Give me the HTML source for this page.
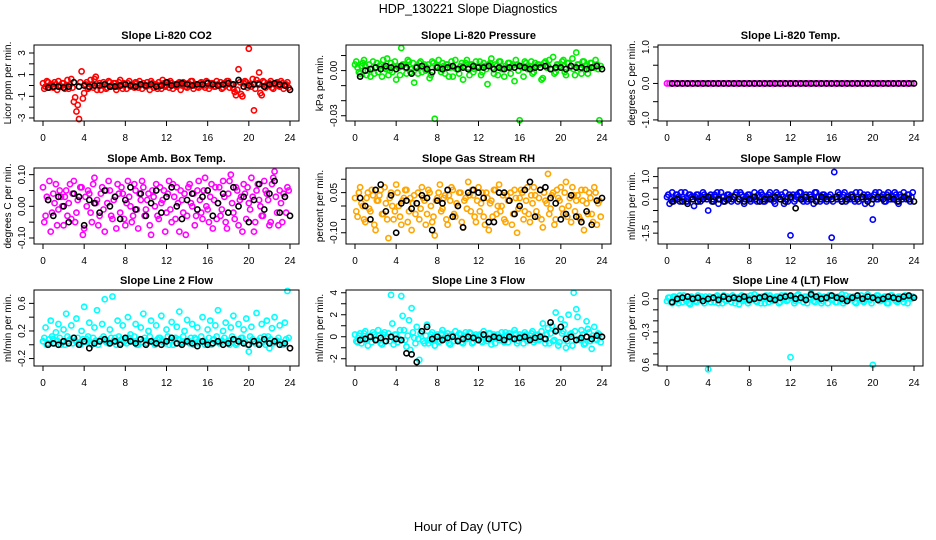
<!DOCTYPE html>
<html><head><meta charset="utf-8">
<style>
body{margin:0;background:#fff;}
svg{display:block;font-family:"Liberation Sans",Arial,sans-serif;}
</style></head>
<body>
<svg id="chart" width="936" height="540" viewBox="0 0 936 540" xmlns="http://www.w3.org/2000/svg">
<text x="468" y="13" font-size="12.5" text-anchor="middle">HDP_130221  Slope Diagnostics</text>
<text x="468" y="531" font-size="13" text-anchor="middle">Hour of Day (UTC)</text>
</svg>
<script>
const xTicks = [0,4,8,12,16,20,24];
const colorStart = 0, colorStep = 0.25;
const color2Start = 0.125, color2Step = 0.25;
const blackStart = 0.5, blackStep = 0.5;

const titles = ["Slope Li-820 CO2","Slope Li-820 Pressure","Slope Li-820 Temp.","Slope Amb. Box Temp.","Slope Gas Stream RH","Slope Sample Flow","Slope Line 2 Flow","Slope Line 3 Flow","Slope Line 4 (LT) Flow"];
const yTitles = ["Licor ppm per min.","kPa per min.","degrees C per min.","degrees C per min.","percent per min.","ml/min per min.","ml/min per min.","ml/min per min.","ml/min per min."];
const yTicks = [[-3,-2,-1,0,1,2,3],[0.01,0,-0.01,-0.02,-0.03],[1,0.5,0,-0.5,-1],[0.1,0.05,0,-0.05,-0.1],[0.1,0.05,0,-0.05,-0.1],[1,0.5,0,-0.5,-1,-1.5],[0.6,0.4,0.2,0,-0.2],[4,3,2,1,0,-1,-2],[0,-0.1,-0.2,-0.3,-0.4,-0.5,-0.6]];
const yTickLabels = [["-3","","-1","","1","","3"],["","0.00","","","-0.03"],["1.0","","0.0","","-1.0"],["0.10","","0.00","","-0.10"],["","0.05","","","-0.10"],["1.0","","0.0","","","-1.5"],["0.6","","0.2","","-0.2"],["4","","2","","0","","-2"],["0.0","","","-0.3","","","0.6"]];
const yLimits = [[-3.28,3.74],[-0.0335,0.017],[-1.03,1.055],[-0.119,0.121],[-0.142,0.142],[-1.98,1.38],[-0.308,0.794],[-2.66,4.25],[-0.61,0.08]];
const seriesColors = ["#ff0000","#00ee00","#ff00ff","#ff00ff","#ffa500","#0000ff","#00ffff","#00ffff","#00ffff"];

const colorVals0 = [0.2,-0.1,0.3,0,-0.2,0.1,0.4,-0.1,0.2,0,-0.3,0.6,-1.5,-2.4,-3.1,1.3,-0.7,0.3,-0.2,0.1,0.6,-0.4,0.2,0,0.1,-0.2,0.3,0,0.2,-0.1,0.5,-0.3,0.1,0.2,-0.1,0,0.3,-0.2,0.1,0.2,-0.1,0,0.4,-0.2,0.1,0.3,-0.3,0.2,0,-0.2,0.2,0.1,-0.1,0.3,0,0.2,-0.2,0.1,0.4,0,-0.1,0.2,0.1,-0.2,0.3,0,0.2,-0.1,0.1,0.3,-0.2,0,0.4,0.1,-0.3,-0.9,1.5,-0.8,0.2,0.3,3.4,-0.1,-2.3,0.5,1.2,-0.9,0.3,0,0.2,-0.2,0.1,0.3,-0.1,0.2,0,0.3];
const colorVals1 = [0.004,0.002,-0.002,0.005,0.003,0,-0.004,0.006,0.002,-0.001,0.004,0.007,0.001,-0.003,0.005,0.003,-0.006,0.002,0.015,0.004,-0.002,0.006,0.001,-0.008,0.003,0.005,-0.001,0.004,0.002,-0.005,0.006,-0.032,0.003,0.001,0.005,-0.002,0.004,0.002,-0.004,0.007,0.001,0.003,-0.006,0.005,0.002,0.004,-0.001,0.006,0.003,-0.003,0.005,0.001,0.004,0.008,-0.002,0.003,0.006,0.001,-0.004,0.002,0.005,0.003,-0.007,0.004,-0.033,0.002,0.006,0.001,0.003,-0.002,0.005,0.004,0.002,-0.005,0.006,0.003,0.001,0.009,-0.001,0.004,0.002,0.007,-0.003,0.005,0.003,0.001,0.012,0.004,-0.002,0.006,0.003,0.001,0.005,0.002,0.004,-0.033];
const colorVals2 = [0,0,0,0,0,0,0,0,0,0,0,0,0,0,0,0,0,0,0,0,0,0,0,0,0,0,0,0,0,0,0,0,0,0,0,0,0,0,0,0,0,0,0,0,0,0,0,0,0,0,0,0,0,0,0,0,0,0,0,0,0,0,0,0,0,0,0,0,0,0,0,0,0,0,0,0,0,0,0,0,0,0,0,0,0,0,0,0,0,0,0,0,0,0,0,0];
const colorVals3 = [0.06,-0.03,0.02,-0.08,0.04,0.07,-0.01,0.03,-0.06,0.05,0.01,-0.04,0.08,-0.02,0.03,0.06,-0.07,0.00,0.04,-0.05,0.09,0.02,-0.03,0.06,-0.08,0.01,0.05,-0.04,0.03,0.07,-0.02,0.04,-0.06,0.08,0.00,-0.03,0.05,-0.07,0.02,0.06,-0.01,0.04,-0.09,0.03,0.07,-0.04,0.01,0.05,-0.02,0.08,-0.05,0.03,0.06,-0.08,0.02,0.04,-0.03,0.07,0.00,-0.06,0.05,0.02,-0.04,0.09,-0.01,0.03,-0.07,0.06,0.01,-0.03,0.08,-0.05,0.04,0.10,-0.02,0.06,-0.06,0.03,0.07,-0.04,0.01,0.09,-0.08,0.05,0.02,-0.03,0.08,0.04,-0.06,0.07,0.11,-0.02,0.05,-0.05,0.03,0.06];
const colorVals4 = [0.03,-0.04,0.07,0.00,-0.06,0.05,-0.02,0.04,-0.09,0.02,0.06,-0.03,0.01,-0.12,0.05,-0.05,0.08,0.00,-0.07,0.03,0.06,-0.02,-0.09,0.04,0.01,-0.05,0.07,0.02,-0.03,0.05,-0.06,-0.11,0.03,0.08,-0.01,0.04,-0.07,0.02,0.06,-0.04,0.00,0.05,-0.08,0.03,0.09,-0.02,0.04,-0.06,0.07,0.01,-0.04,0.05,-0.09,0.02,0.06,-0.03,0.08,0.00,-0.05,0.04,0.02,-0.07,0.06,-0.10,0.03,0.05,-0.02,0.07,-0.06,0.01,0.04,-0.04,0.06,-0.08,0.02,0.12,-0.01,0.05,-0.05,0.03,0.07,-0.03,0.09,0.00,-0.06,0.04,0.02,-0.04,0.06,-0.09,0.01,0.05,-0.03,0.07,-0.07,0.02];
const colorVals5 = [0.1,-0.2,0.3,0.0,0.2,-0.1,0.1,0.3,-0.1,0.2,0.0,0.1,0.2,-0.1,0.3,0.1,-0.5,0.2,0.0,0.1,-0.2,0.3,0.1,0.0,0.2,-0.1,0.1,0.3,0.0,0.2,-0.2,0.1,0.2,0.0,0.3,-0.1,0.1,0.2,-0.1,0.0,0.3,0.1,-0.2,0.2,0.0,0.1,0.3,-0.1,-1.6,0.2,0.0,0.1,0.3,-0.1,0.2,0.0,0.1,-0.2,0.3,0.1,0.0,0.2,-0.1,0.1,-1.7,1.2,0.0,0.2,-0.1,0.3,0.1,0.0,0.2,-0.1,0.1,0.3,0.0,-0.2,0.2,0.1,-0.9,0.3,0.0,0.1,0.2,-0.1,0.3,0.0,0.1,0.2,-0.2,0.1,0.3,0.0,0.2,0.1];
const colorVals6 = [0.05,0.25,0.02,0.35,0.08,0.18,0.3,0.0,0.22,0.45,0.05,0.28,0.1,0.38,0.03,0.2,0.55,0.08,0.32,0.0,0.25,0.5,0.06,0.3,0.66,0.04,0.22,0.7,0.1,0.35,0.02,0.28,0.08,0.4,0.15,0.05,0.3,0.0,0.25,0.45,0.06,0.2,0.35,0.03,0.28,0.1,0.42,0.05,0.22,0.0,0.33,0.08,0.26,0.48,0.04,0.2,0.36,0.02,0.3,0.1,0.25,0.05,0.4,0.0,0.22,0.35,0.07,0.28,0.5,0.03,0.2,0.32,0.06,0.25,0.42,0.0,0.3,0.1,0.22,0.38,-0.1,0.26,0.05,0.46,0.02,0.3,0.12,0.35,-0.05,0.24,0.4,0.06,0.28,0.0,0.32,0.78];
const colorVals7 = [0.2,-0.5,0.3,-0.2,0.5,-0.8,0.1,0.4,-0.3,0.6,-0.6,0.2,-0.4,0.3,3.8,-0.7,0.2,-0.2,3.7,0.6,-0.9,1.5,2.6,-0.1,0.9,-2.1,0.5,-0.6,1.1,-0.3,0.4,-0.8,0.2,-0.4,0.6,-0.2,0.3,-0.7,0.1,0.5,-0.3,0.2,-0.6,0.4,-0.1,0.3,-0.5,0.2,0.1,-0.4,0.5,-0.2,0.3,-0.7,0.2,0.0,-0.3,0.4,-0.5,0.1,0.3,-0.2,0.6,-0.6,0.2,-0.1,0.4,-0.4,0.1,0.5,-0.3,0.2,-0.2,1.2,-0.6,0.8,0.3,-0.4,2.2,-0.8,1.6,0.5,-1.0,2.0,0.3,4.0,2.5,-0.2,0.6,-0.7,1.4,0.4,-1.1,0.9,-0.3,0.2];
const colorVals8 = [-0.02,0.01,-0.04,0.02,-0.01,0.03,-0.03,0.00,0.02,-0.05,0.01,-0.02,0.03,-0.01,0.00,0.02,-0.64,-0.03,0.01,0.02,-0.04,0.00,0.03,-0.02,0.01,-0.03,0.02,0.00,-0.05,0.03,-0.01,0.02,-0.02,0.01,0.04,-0.03,0.00,0.02,-0.04,0.01,0.03,-0.02,0.00,0.02,-0.03,0.01,0.03,-0.01,-0.53,0.02,-0.02,0.04,0.01,-0.03,0.02,0.00,0.05,-0.02,0.01,0.03,-0.04,0.02,0.00,0.03,-0.01,0.02,-0.03,0.01,0.04,-0.02,0.00,0.02,0.01,-0.03,0.03,0.00,-0.02,0.02,0.04,-0.01,-0.6,0.01,0.03,-0.02,0.00,0.02,-0.04,0.03,0.01,-0.02,0.02,0.00,-0.03,0.01,0.02,0.00];

const colorValsB0 = [-0.3,0.4,-0.2,0.1,0.3,-0.4,0.0,0.2,-0.3,0.5,0.1,-0.2,-1.1,-1.8,0.3,-1.2,0.1,-0.3,0.5,-0.2,0.8,0.0,-0.4,0.3,-0.3,0.4,-0.1,0.2,-0.4,0.3,0.0,0.2,-0.3,0.4,0.1,-0.2,0.2,0.4,-0.3,0.0,0.3,-0.4,0.2,0.1,-0.3,0.0,0.5,-0.1,0.3,0.4,-0.3,0.0,0.2,-0.4,0.3,-0.1,0.2,0.4,-0.3,0.1,-0.2,0.3,0.0,0.4,-0.3,0.2,-0.1,0.4,0.0,-0.3,0.2,0.4,-0.2,0.1,-0.6,-0.4,0.3,-1.0,0.4,-0.2,0.1,0.6,-0.3,0.2,-0.7,0.4,-0.2,0.1,0.4,-0.3,0.2,0.0,0.4,-0.3,0.1,-0.2];
const colorValsB1 = [0.006,-0.001,0.003,0.007,-0.003,0.004,0.001,-0.002,0.005,0.003,-0.004,0.002,0.008,0.000,-0.001,0.006,0.003,-0.003,0.004,0.002,0.007,-0.001,0.005,0.002,-0.002,0.006,0.003,0.000,0.004,-0.003,0.005,0.002,0.007,-0.001,0.003,0.004,-0.004,0.006,0.002,0.001,-0.002,0.005,0.003,0.007,-0.003,0.004,0.001,0.002,0.006,-0.001,0.003,-0.009,0.005,0.002,0.004,-0.003,0.006,0.001,0.003,0.005,-0.002,0.004,0.007,0.000,0.003,-0.004,0.005,0.002,0.006,-0.001,0.003,0.004,-0.006,0.005,0.002,0.007,0.001,-0.002,0.004,0.003,0.006,-0.001,0.005,0.002,0.008,-0.003,0.004,0.001,0.006,0.003,-0.002,0.005,0.002,0.007,0.001,0.003];
const colorValsB3 = [-0.05,0.03,0.08,-0.02,0.01,-0.06,0.05,0.00,0.03,-0.03,0.07,0.04,-0.05,0.02,0.06,-0.09,0.03,0.05,-0.02,0.07,0.01,-0.06,0.04,-0.01,0.05,0.08,-0.03,0.02,-0.07,0.04,0.06,-0.04,0.01,0.03,-0.05,0.07,-0.01,0.04,0.08,-0.03,0.02,-0.06,0.05,0.00,-0.03,0.06,0.02,-0.08,0.04,-0.01,0.07,-0.04,0.01,0.05,-0.02,-0.09,0.06,0.01,0.04,-0.03,0.08,-0.02,0.05,0.00,-0.05,0.07,0.02,-0.04,0.06,-0.01,0.03,-0.07,0.08,0.01,-0.04,0.05,0.02,-0.08,0.04,0.06,-0.01,0.03,-0.05,0.07,0.00,-0.03,0.05,0.02,-0.05,0.09,0.03,-0.06,0.01,0.04,-0.02,0.05];
const colorValsB4 = [-0.02,0.05,0.01,-0.05,0.03,-0.01,0.06,-0.07,0.02,0.04,-0.03,0.07,-0.05,0.03,0.00,-0.02,0.05,-0.04,0.02,0.06,-0.06,0.03,0.01,-0.03,0.05,-0.01,0.03,-0.07,0.06,0.00,-0.04,0.02,0.05,-0.02,0.03,-0.05,0.04,0.07,-0.03,0.01,0.05,-0.06,0.02,-0.01,0.04,0.06,-0.04,0.02,-0.02,0.05,-0.07,0.03,0.01,-0.04,0.06,0.00,-0.02,0.04,-0.06,0.02,0.05,-0.03,0.03,-0.01,0.06,-0.05,0.02,-0.03,0.04,0.07,-0.02,0.03,-0.05,0.05,0.01,-0.03,0.04,-0.07,0.06,0.02,-0.01,0.05,-0.04,0.03,0.07,-0.02,0.04,-0.05,0.02,0.06,-0.03,0.03,-0.06,0.05,0.01,-0.04];
const colorValsB5 = [0.2,0.0,-0.1,0.2,0.1,0.3,0.0,-0.1,0.2,0.1,-0.3,0.2,0.0,0.1,0.2,0.0,0.1,-0.1,0.2,0.3,0.0,0.1,-0.1,0.2,0.1,0.0,0.2,-0.1,0.3,0.1,0.0,0.2,-0.1,0.1,0.0,0.2,0.3,-0.1,0.1,0.2,0.0,-0.1,0.3,0.1,0.2,-0.2,0.0,0.2,0.1,-0.1,0.2,0.3,0.0,0.1,-0.1,0.2,0.0,0.3,0.1,-0.1,0.2,0.1,0.0,0.2,-0.1,0.1,0.3,0.0,0.2,-0.1,0.1,0.2,0.0,0.3,-0.1,0.1,0.2,0.0,0.1,-0.2,0.2,0.0,0.3,0.1,-0.1,0.2,0.0,0.1,0.3,-0.1,0.2,0.0,0.1,0.2,-0.1,0.3];
const colorValsB6 = [0.1,0.0,0.08,0.12,0.02,0.06,0.1,0.04,0.0,0.12,0.08,0.02,0.06,0.1,0.0,0.08,0.04,0.12,0.02,0.1,0.06,0.0,0.08,0.12,0.04,0.02,0.1,0.06,0.0,0.12,0.08,0.04,0.02,0.1,0.06,0.12,0.0,0.08,0.04,0.1,0.02,0.12,0.06,0.0,0.08,0.1,0.04,0.02,0.12,0.06,0.0,0.1,0.08,0.02,0.12,0.04,0.06,0.1,0.0,0.08,0.02,0.12,0.06,0.04,0.1,0.0,0.08,0.12,0.02,0.06,0.1,0.04,0.0,0.12,0.08,0.02,0.06,0.1,0.04,0.0,0.12,0.08,0.02,0.06,0.1,0.04,0.0,0.12,0.08,0.02,0.06,0.1,0.04,0.0,0.08,0.1];
const colorValsB7 = [-0.4,0.1,-0.6,0.3,-0.2,0.0,-0.5,0.2,-0.3,0.1,-0.7,0.4,0.0,-0.4,1.2,0.2,-0.5,0.6,1.9,-0.3,0.1,-1.2,0.4,-0.6,-0.2,0.3,-0.4,0.1,-0.6,0.2,-0.3,0.0,-0.5,0.3,-0.2,0.1,-0.6,0.2,-0.4,0.0,0.3,-0.5,0.1,-0.2,0.4,-0.6,0.0,-0.3,0.2,-0.5,0.1,-0.4,0.3,-0.1,-0.6,0.2,0.0,-0.3,0.4,-0.5,0.1,-0.2,0.3,-0.4,0.0,-0.6,0.2,-0.1,0.3,-0.5,0.1,-0.3,0.5,-0.2,0.2,-0.6,1.0,-0.3,0.6,-0.5,0.3,1.1,-0.4,0.2,-0.8,0.5,1.8,-0.3,0.2,-0.6,0.7,-0.4,0.1,-0.2,0.3,-0.5];
const colorValsB8 = [0.01,-0.03,0.02,0.00,-0.04,0.01,0.03,-0.02,-0.04,0.02,0.00,-0.03,0.01,0.02,-0.04,-0.01,0.02,0.00,-0.03,0.03,0.01,-0.04,-0.01,0.02,0.00,0.03,-0.04,0.01,0.02,-0.02,0.00,-0.04,0.03,0.01,-0.02,0.02,-0.04,0.00,0.03,-0.03,0.01,-0.01,0.02,-0.04,0.03,0.00,-0.02,0.02,0.01,-0.04,0.03,-0.01,0.00,0.02,-0.04,0.01,0.03,-0.03,0.00,0.02,-0.02,0.01,-0.04,0.03,0.00,-0.03,0.02,0.01,-0.04,0.03,-0.01,0.00,0.02,-0.04,0.01,0.03,-0.03,0.00,0.02,-0.04,0.01,0.03,-0.02,0.00,0.02,-0.04,0.01,0.03,-0.01,-0.03,0.02,0.00,0.03,-0.04,0.01,0.02];

const blackVals0 = [-0.2,-0.1,-0.1,-0.2,-0.1,0.3,-0.1,0,-0.1,0,0,0.1,-0.1,-0.1,0,0.1,0,-0.1,0.1,0,0.1,-0.1,0,0.3,0,0.1,0.2,0.1,0,0.1,0.1,0.2,0.1,0,0.1,0.2,0.1,0.5,-0.1,0,0.1,0.1,-0.1,0.1,0.2,0.1,0,-0.4];
const blackVals1 = [-0.004,0,0.001,0.002,0.001,0.003,0.002,0.001,0.003,0.002,-0.002,0.002,0.003,0.001,-0.001,0.002,0.001,0.002,0.003,0.001,0.002,0.001,0.003,0.002,0.002,0.003,0.001,0.002,0.001,0.002,0.002,0.003,0.002,0.001,0.002,0.002,0.003,0.001,0.002,0.002,0.001,0.003,0.002,0.002,0.001,0.002,0.003,0.001];
const blackVals2 = [0,0,0,0,0,0,0,0,0,0,0,0,0,0,0,0,0,0,0,0,0,0,0,0,0,0,0,0,0,0,0,0,0,0,0,0,0,0,0,0,0,0,0,0,0,0,0,0];
const blackVals3 = [0.02,-0.03,0.03,0.00,-0.05,0.04,0.03,-0.06,0.02,0.01,-0.02,0.05,0.00,0.03,-0.04,0.02,0.06,-0.01,0.04,-0.03,0.01,0.05,-0.02,0.03,0.06,0.00,-0.04,0.02,0.04,-0.01,0.03,0.05,-0.03,0.01,0.04,-0.02,0.06,0.00,0.03,-0.05,0.02,0.07,-0.01,0.04,0.08,-0.02,0.03,-0.03];
const blackVals4 = [0.03,0.00,-0.05,0.06,0.08,-0.02,0.04,-0.10,0.01,0.02,-0.01,0.01,0.04,0.03,-0.09,0.02,0.01,0.06,-0.04,0.00,-0.08,0.05,0.06,0.05,0.03,-0.06,-0.06,0.05,0.05,0.02,-0.03,0.00,0.06,0.09,-0.04,0.06,0.07,0.03,0.01,-0.05,-0.03,0.04,-0.04,-0.06,-0.02,-0.07,0.02,0.03];
const blackVals5 = [-0.1,0,-0.1,-0.2,0,-0.1,0,0.1,-0.1,0,-0.1,0,0.1,0,-0.1,0,0.1,-0.1,0,0,0.1,0,-0.1,0.1,-0.4,0,0.1,0,-0.1,0.1,0,0,0.1,-0.1,0,0.1,0,0.1,-0.1,0,0.1,0,0.1,0,-0.1,0.1,0,-0.1];
const blackVals6 = [0.0,0.02,0.0,0.05,0.02,0.1,0.0,0.05,-0.05,0.02,0.05,0.08,0.02,0.05,0.0,0.1,0.05,0.02,0.08,0.0,0.05,0.02,0.0,0.05,0.1,0.02,0.0,0.05,0.02,-0.02,0.05,0.0,0.02,0.05,0.0,0.02,0.08,0.05,0.02,0.0,0.05,0.0,0.08,0.02,0.05,0.0,0.02,-0.05];
const blackVals7 = [-0.3,-0.2,0.0,-0.3,-0.1,-0.4,0.0,-0.2,-0.3,-1.5,-1.6,-2.3,0.5,0.9,-0.2,0.0,-0.3,-0.1,0.0,-0.4,-0.2,0.0,-0.1,-0.3,0.2,-0.2,0.0,-0.1,-0.3,0.0,-0.2,-0.1,0.0,-0.3,-0.1,0.0,-0.2,1.3,0.5,0.9,-0.2,0.0,-0.3,-0.1,0.0,-0.2,0.1,0.0];
const blackVals8 = [-0.03,0.0,0.01,0.02,0.0,0.01,-0.02,0.0,0.01,-0.01,0.02,0.0,0.01,0.0,0.02,-0.01,0.0,0.01,0.02,0.0,-0.01,0.01,0.02,0.03,0.0,0.01,-0.01,0.04,0.02,0.0,0.01,0.03,0.01,0.0,-0.02,0.01,0.03,0.0,0.02,0.01,-0.01,0.0,0.02,0.01,0.0,0.02,0.03,0.01];

const colorSeries = [colorVals0,colorVals1,colorVals2,colorVals3,colorVals4,colorVals5,colorVals6,colorVals7,colorVals8];
const colorSeriesB = [colorValsB0,colorValsB1,[],colorValsB3,colorValsB4,colorValsB5,colorValsB6,colorValsB7,colorValsB8];
const blackSeries = [blackVals0,blackVals1,blackVals2,blackVals3,blackVals4,blackVals5,blackVals6,blackVals7,blackVals8];

const NS = "http://www.w3.org/2000/svg";
const svg = document.getElementById('chart');
function mk(tag, attrs, parent){
  const e = document.createElementNS(NS, tag);
  for (const k in attrs) e.setAttribute(k, attrs[k]);
  (parent||svg).appendChild(e);
  return e;
}
const boxLefts = [34,346,658], boxTops = [45,168,290], boxH = 76, boxW = 265;

for (let p = 0; p < 9; p++) {
  const L = boxLefts[p % 3], T = boxTops[Math.floor(p / 3)], B = T + boxH, R = L + boxW;
  const [ymin, ymax] = yLimits[p];
  const xs = h => L + 9 + h / 24 * 247;
  const ys = v => B - (v - ymin) / (ymax - ymin) * boxH;
  const g = mk('g', {});
  
  

  const t = mk('text', {x: (L + R) / 2, y: T - 6, 'font-size': 11, 'font-weight': 'bold', 'text-anchor': 'middle'}, g);
  t.textContent = titles[p];
  
  

  const yt = mk('text', {x: 0, y: 0, 'font-size': 10, 'text-anchor': 'middle', transform: `translate(${L - 23},${(T + B) / 2}) rotate(-90)`}, g);
  yt.textContent = yTitles[p];
  
  

  const cg = mk('g', {fill: 'none', stroke: seriesColors[p], 'stroke-width': 1.6}, g);
  
  
  colorSeries[p].forEach((v, i) => {
    const c = mk('circle', {cx: xs(colorStart + i * colorStep), cy: ys(v), r: 2.6}, cg);
    
    
  });
  colorSeriesB[p].forEach((v, i) => {
    const c = mk('circle', {cx: xs(color2Start + i * color2Step), cy: ys(v), r: 2.6}, cg);
    
    
  });
  const bg = mk('g', {fill: 'none', stroke: '#000', 'stroke-width': 1.6}, g);
  
  
  blackSeries[p].forEach((v, i) => {
    const c = mk('circle', {cx: xs(blackStart + i * blackStep), cy: ys(v), r: 2.6}, bg);
    
    
  });

  const box = mk('rect', {x: L, y: T, width: boxW, height: boxH, fill: 'none', stroke: '#000', 'stroke-width': 1}, g);
  
  

  xTicks.forEach(h => {
    mk('line', {x1: xs(h), x2: xs(h), y1: B, y2: B + 5, stroke: '#000'}, g);
    const lt = mk('text', {x: xs(h), y: B + 20, 'font-size': 10, 'text-anchor': 'middle'}, g);
    lt.textContent = h;
    
    
  });
  yTicks[p].forEach((v, i) => {
    mk('line', {x1: L - 5, x2: L, y1: ys(v), y2: ys(v), stroke: '#000'}, g);
    if (yTickLabels[p][i]) {
      const lt = mk('text', {x: 0, y: 0, 'font-size': 10, 'text-anchor': 'middle', transform: `translate(${L - 9},${ys(v)}) rotate(-90)`}, g);
      lt.textContent = yTickLabels[p][i];
      
      
    }
  });
}
</script>
</body></html>
